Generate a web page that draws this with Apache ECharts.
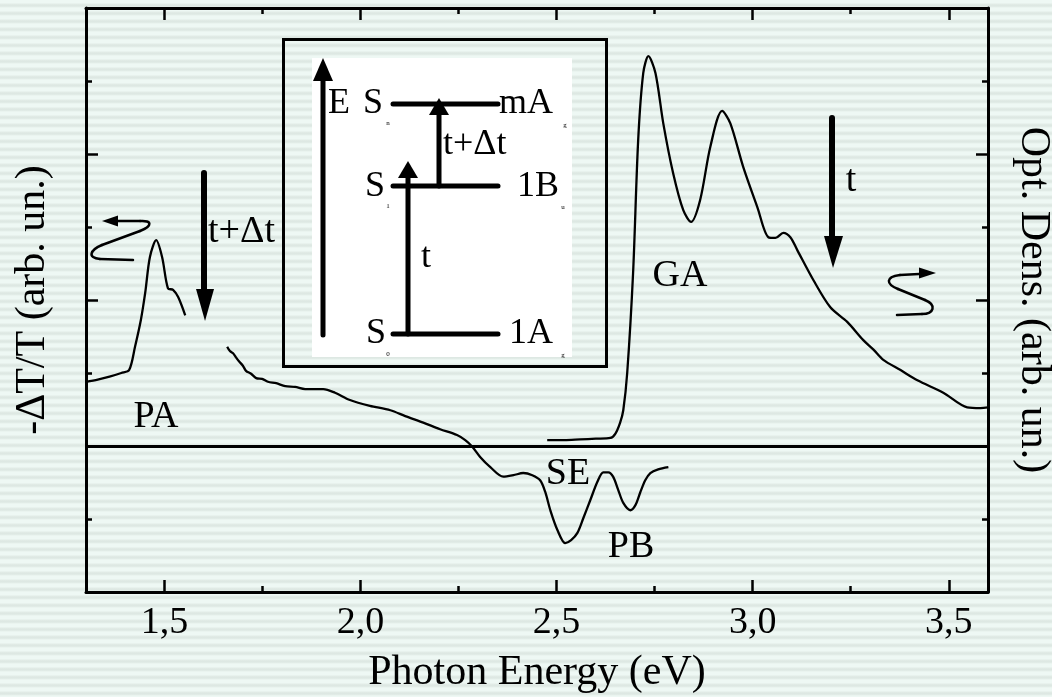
<!DOCTYPE html>
<html>
<head>
<meta charset="utf-8">
<script src="https://cdn.jsdelivr.net/npm/echarts@6/dist/echarts.min.js"></script>
<style>
  html, body { margin:0; padding:0; }
  body {
    width:1052px; height:697px; overflow:hidden;
    background: repeating-linear-gradient(to bottom, #eef8f4 0px, #eef8f4 3px, #e2ece7 4px, #dce7e2 6px, #e6f0eb 7px, #eef8f4 8px);
  }
  #chart { width:1052px; height:697px; }
</style>
</head>
<body>
<div id="chart"></div>
<script>
// ---------- data ----------
const xMajorTicks = [1.5, 2.0, 2.5, 3.0, 3.5];
const xMinorTicks = [1.75, 2.25, 2.75, 3.25];

// -dT/T (photoinduced absorption), part before the gap
const paX1 = [1.30, 1.33, 1.36, 1.39, 1.41, 1.425, 1.440, 1.451, 1.463, 1.479, 1.494, 1.509, 1.522, 1.535, 1.553];
const paY1 = [0.88, 0.91, 0.95, 1.00, 1.04, 1.36, 1.73, 2.10, 2.59, 2.82, 2.59, 2.16, 2.14, 2.04, 1.79];

// -dT/T after the gap (PA tail, SE and PB)
const paX2 = [1.660, 1.667, 1.675, 1.683, 1.690, 1.700, 1.708, 1.721, 1.734, 1.749, 1.764, 1.785, 1.808, 1.833, 1.859, 1.884, 1.905, 1.935, 1.973, 2.024, 2.076, 2.114, 2.160, 2.203, 2.246, 2.267, 2.285, 2.305, 2.331, 2.364, 2.390, 2.415, 2.438, 2.458, 2.471, 2.484, 2.502, 2.522, 2.537, 2.553, 2.568, 2.586, 2.604, 2.619, 2.632, 2.644, 2.657, 2.670, 2.688, 2.701, 2.713, 2.726, 2.739, 2.759, 2.785];
const paY2 = [1.36, 1.30, 1.27, 1.21, 1.16, 1.10, 1.03, 0.99, 0.93, 0.92, 0.88, 0.86, 0.82, 0.81, 0.78, 0.78, 0.78, 0.73, 0.63, 0.55, 0.49, 0.41, 0.32, 0.23, 0.15, 0.08, -0.01, -0.15, -0.29, -0.42, -0.40, -0.37, -0.40, -0.47, -0.63, -0.88, -1.15, -1.33, -1.29, -1.19, -0.99, -0.74, -0.49, -0.36, -0.36, -0.42, -0.60, -0.78, -0.88, -0.81, -0.64, -0.47, -0.37, -0.32, -0.29];

// Optical density (ground state absorption)
const gaX = [2.476, 2.520, 2.560, 2.600, 2.637, 2.650, 2.662, 2.670, 2.680, 2.695, 2.708, 2.721, 2.734, 2.752, 2.772, 2.797, 2.823, 2.843, 2.866, 2.892, 2.922, 2.943, 2.976, 3.012, 3.040, 3.058, 3.078, 3.096, 3.114, 3.155, 3.198, 3.241, 3.282, 3.308, 3.333, 3.377, 3.420, 3.486, 3.547, 3.581, 3.600];
const gaY = [0.08, 0.08, 0.09, 0.10, 0.11, 0.17, 0.32, 0.49, 1.00, 2.37, 4.19, 5.11, 5.34, 5.11, 4.42, 3.74, 3.23, 3.07, 3.37, 4.10, 4.59, 4.42, 3.82, 3.27, 2.86, 2.85, 2.92, 2.86, 2.68, 2.27, 1.90, 1.70, 1.45, 1.32, 1.18, 1.04, 0.90, 0.73, 0.53, 0.52, 0.53];

// ---------- chart ----------
const FONT = '"Liberation Serif", "Times New Roman", serif';
const zip = (xs, ys) => xs.map((x, i) => [x, ys[i]]);

const paData = zip(paX1, paY1).concat(['-'], zip(paX2, paY2));

function xAxisCfg(position, ticks, len, showLine, showLabel, extra) {
  return Object.assign({
    type: 'value', position: position, min: 1.3, max: 3.6,
    axisLine: { show: showLine, onZero: false, lineStyle: { color: '#000', width: 3 } },
    axisTick: { show: true, inside: true, customValues: ticks, length: len, lineStyle: { color: '#000', width: 2.5 } },
    axisLabel: showLabel ? {
      show: true, customValues: ticks, margin: 12,
      formatter: v => Number(v).toFixed(1).replace('.', ','),
      color: '#000', fontSize: 38, fontFamily: FONT
    } : { show: false },
    splitLine: { show: false }
  }, extra || {});
}

function yAxisCfg(position, name, rotate, gap) {
  return {
    type: 'value', position: position, min: -2, max: 6, interval: 2,
    name: name, nameLocation: 'middle', nameRotate: rotate, nameGap: gap,
    nameTextStyle: { color: '#000', fontSize: 42, fontFamily: FONT },
    axisLine: { show: true, onZero: false, lineStyle: { color: '#000', width: 3 } },
    axisTick: { show: true, inside: true, length: 12, lineStyle: { color: '#000', width: 2.5 } },
    minorTick: { show: true, splitNumber: 2, length: 6, lineStyle: { color: '#000', width: 2.5 } },
    axisLabel: { show: false },
    splitLine: { show: false }, minorSplitLine: { show: false }
  };
}

const txt = (s, x, y, size, align) => ({
  type: 'text', x: x, y: y, z: 110,
  style: { text: s, fill: '#000', fontSize: size, fontFamily: FONT, align: align || 'center', verticalAlign: 'middle' }
});
const ln = (x1, y1, x2, y2, w) => ({
  type: 'line', z: 105, shape: { x1: x1, y1: y1, x2: x2, y2: y2 },
  style: { stroke: '#000', lineWidth: w, lineCap: 'round' }
});
const bz = (x1, y1, c1x, c1y, c2x, c2y, x2, y2, w) => ({
  type: 'bezierCurve', z: 105,
  shape: { x1: x1, y1: y1, cpx1: c1x, cpy1: c1y, cpx2: c2x, cpy2: c2y, x2: x2, y2: y2 },
  style: { stroke: '#000', fill: 'none', lineWidth: w, lineCap: 'round' }
});
const tri = (pts) => ({ type: 'polygon', z: 106, shape: { points: pts }, style: { fill: '#000' } });

const graphics = [
  // inset frame and white panel
  { type: 'rect', z: 100, shape: { x: 312, y: 58, width: 260, height: 299 }, style: { fill: '#ffffff' } },
  { type: 'rect', z: 101, shape: { x: 283.5, y: 39.5, width: 323, height: 327 }, style: { fill: 'none', stroke: '#000', lineWidth: 3 } },
  // energy axis arrow
  ln(323, 335, 323, 72, 5), tri([[323, 58], [313, 81], [333, 81]]),
  // levels
  ln(393, 104, 498, 104, 5), ln(393, 186, 498, 186, 5), ln(393, 334, 498, 334, 5),
  // transitions
  ln(408, 334, 408, 172, 5), tri([[408, 161], [398, 178], [418, 178]]),
  ln(439, 186, 439, 110, 5), tri([[439, 98], [429, 115], [449, 115]]),
  // inset text
  txt('E', 339, 104, 36), txt('S', 373, 104, 36), txt('mA', 499, 104, 36, 'left'),
  txt('n', 388, 123, 7), txt('g', 565, 125, 7),
  txt('t+Δt', 443, 145, 36, 'left'),
  txt('S', 375, 187, 36), txt('1B', 517, 187, 36, 'left'),
  txt('1', 388, 206, 7), txt('u', 563, 207, 7),
  txt('t', 426, 258, 36),
  txt('S', 376, 334, 36), txt('1A', 509, 334, 36, 'left'),
  txt('0', 388, 354, 7), txt('g', 563, 355, 7),
  // main-plot arrows
  ln(204, 173, 204, 295, 6), tri([[205, 321], [196, 289], [214, 289]]),
  txt('t+Δt', 208, 232, 38, 'left'),
  ln(832, 118, 832, 240, 6), tri([[833, 268], [824, 236], [843, 236]]),
  txt('t', 851, 181, 38),
  // curly arrow pointing to the left axis
  ln(133, 260, 100, 259, 2.5),
  bz(100, 259, 87, 258, 90, 250, 102, 245, 2.5),
  ln(102, 245, 140, 231, 2.5),
  bz(140, 231, 153, 226, 152, 220, 140, 221, 2.5),
  ln(140, 221, 115, 221, 2.5),
  tri([[102, 221], [118, 215.5], [118, 226.5]]),
  // curly arrow pointing to the right axis
  ln(919, 274, 900, 275, 2.5),
  bz(900, 275, 885, 277, 886, 284, 898, 289, 2.5),
  ln(898, 289, 925, 300, 2.5),
  bz(925, 300, 937, 305, 934, 314, 922, 314, 2.5),
  ln(922, 314, 897, 315, 2.5),
  tri([[936, 273], [919, 267.5], [919, 278.5]]),
  // band labels
  txt('PA', 156, 417, 38), txt('GA', 680, 276, 38),
  txt('SE', 568, 474, 38), txt('PB', 631, 547, 38)
];

const chart = echarts.init(document.getElementById('chart'), null, { renderer: 'canvas' });
chart.setOption({
  animation: false,
  backgroundColor: 'transparent',
  grid: { left: 86, right: 64, top: 8, bottom: 105, containLabel: false, outerBoundsMode: 'none' },
  xAxis: [
    xAxisCfg('bottom', xMajorTicks, 12, true, true, {
      name: 'Photon Energy (eV)', nameLocation: 'middle', nameGap: 60,
      nameTextStyle: { color: '#000', fontSize: 42, fontFamily: FONT }
    }),
    xAxisCfg('bottom', xMinorTicks, 6, false, false),
    xAxisCfg('top', xMajorTicks, 12, true, false),
    xAxisCfg('top', xMinorTicks, 6, false, false)
  ],
  yAxis: [
    yAxisCfg('left', '-ΔT/T (arb. un.)', 90, 32),
    yAxisCfg('right', 'Opt. Dens. (arb. un.)', -90, 24)
  ],
  series: [
    {
      type: 'line', name: '-ΔT/T', xAxisIndex: 0, yAxisIndex: 0,
      data: paData, showSymbol: false, smooth: 0.3, connectNulls: false,
      lineStyle: { color: '#000', width: 2.3 },
      markLine: {
        silent: true, symbol: ['none', 'none'], label: { show: false },
        lineStyle: { color: '#000', width: 3, type: 'solid' },
        data: [{ yAxis: 0 }]
      }
    },
    {
      type: 'line', name: 'Opt. Dens.', xAxisIndex: 0, yAxisIndex: 1,
      data: zip(gaX, gaY), showSymbol: false, smooth: 0.3,
      lineStyle: { color: '#000', width: 2.3 }
    }
  ],
  graphic: graphics
});
</script>
</body>
</html>
